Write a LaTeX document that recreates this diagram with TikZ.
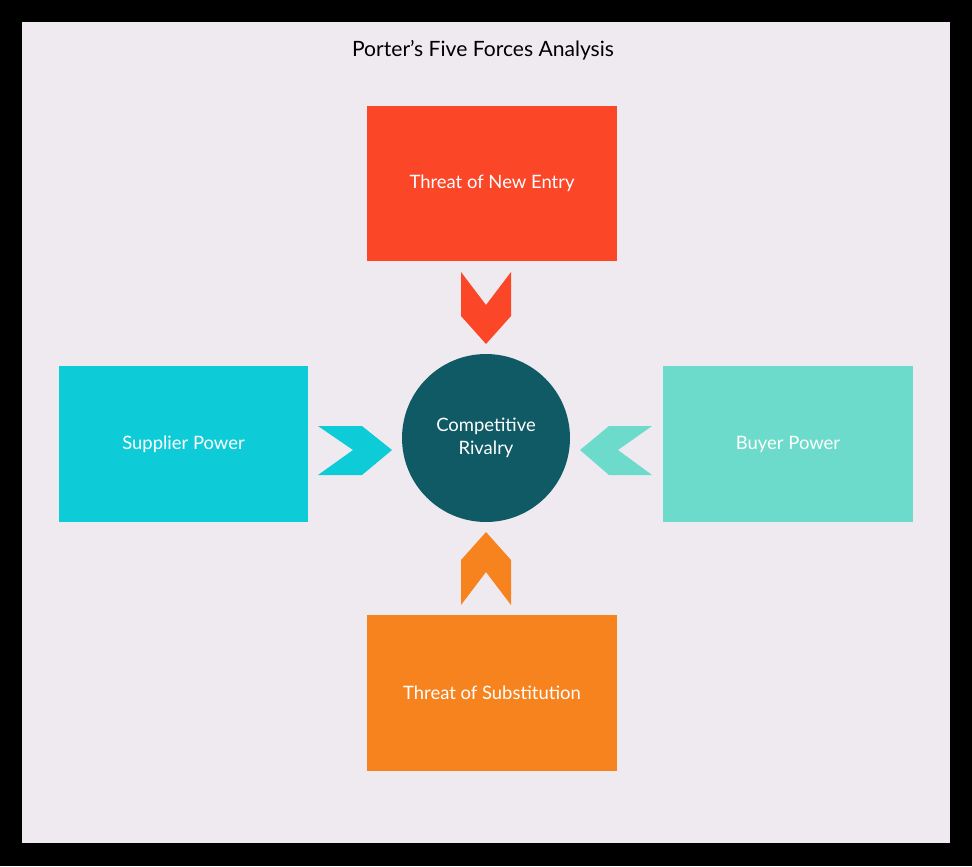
\documentclass[tikz,border=0pt]{standalone}
\usepackage{fontspec}
\setmainfont{Lato}
\usetikzlibrary{positioning}
\definecolor{panel}{HTML}{EFEAF0}
\definecolor{entryred}{HTML}{FB4628}
\definecolor{supplycyan}{HTML}{0DCCD8}
\definecolor{buyermint}{HTML}{6CDBCB}
\definecolor{substorange}{HTML}{F7831F}
\definecolor{rivalteal}{HTML}{0F5A64}
\tikzset{
  forcebox/.style={draw=none, minimum width=5cm, minimum height=3.12cm, text=white, font=\fontsize{10.5}{12}\selectfont},
}
\begin{document}
\begin{tikzpicture}[x=0.02cm, y=-0.02cm]
\useasboundingbox (0,0) rectangle (972,866);
\fill[black] (0,0) rectangle (972,866);
\fill[panel] (22,22) rectangle (950,843);
\node[font=\fontsize{12}{14}\selectfont] (title) at (483,50) {Porter's Five Forces Analysis};

\node[forcebox, fill=entryred] (entry) at (492,183.5) {Threat of New Entry};
\node[forcebox, fill=supplycyan] (supplier) at (183.5,444) {Supplier Power};
\node[forcebox, fill=buyermint] (buyer) at (788,444) {Buyer Power};
\node[forcebox, fill=substorange] (subst) at (492,693) {Threat of Substitution};
\node[circle, fill=rivalteal, minimum size=3.36cm, text=white, align=center, font=\fontsize{10.5}{13}\selectfont] (rivalry) at (486,438) {Competitive\\Rivalry};

% chevrons
\fill[entryred] (461,272) -- (486,305) -- (511,272) -- (511,316) -- (486,344) -- (461,316) -- cycle;
\fill[substorange] (461,605) -- (486,572) -- (511,605) -- (511,560) -- (486,532) -- (461,560) -- cycle;
\fill[supplycyan] (318,426) -- (362,426) -- (392,450) -- (362,475) -- (318,475) -- (353,450) -- cycle;
\fill[buyermint] (652,426) -- (609,426) -- (580,450) -- (609,475) -- (652,475) -- (618,450) -- cycle;
\end{tikzpicture}
\end{document}
